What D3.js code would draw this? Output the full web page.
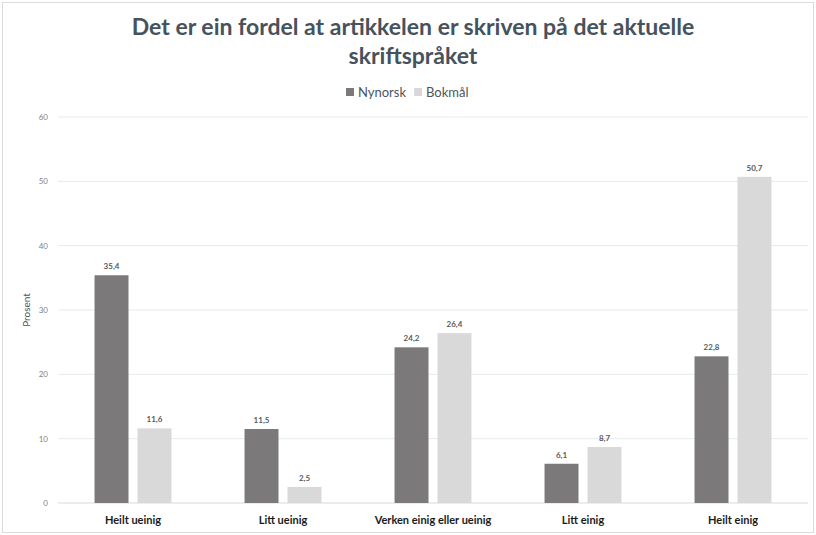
<!DOCTYPE html>
<html>
<head>
<meta charset="utf-8">
<script src="https://cdn.jsdelivr.net/npm/d3@7"></script>
<style>
  body { margin: 0; background: #fff; }
  text { font-family: Lato, "Open Sans", sans-serif; }
</style>
</head>
<body>
<div id="chart"></div>
<script>
// Chart data
var categories = ["Heilt ueinig", "Litt ueinig", "Verken einig eller ueinig", "Litt einig", "Heilt einig"];
var seriesNames = ["Nynorsk", "Bokmål"];
var nynorskValues = [35.4, 11.5, 24.2, 6.1, 22.8];
var bokmalValues = [11.6, 2.5, 26.4, 8.7, 50.7];
var yTicks = [0, 10, 20, 30, 40, 50, 60];
var titleLines = ["Det er ein fordel at artikkelen er skriven på det aktuelle", "skriftspråket"];

var svgWidth = 816;
var svgHeight = 535;

var margin = { top: 117, right: 8, bottom: 32, left: 58 };
var width = svgWidth - margin.left - margin.right;
var height = svgHeight - margin.top - margin.bottom;

var colors = { "Nynorsk": "#7b7979", "Bokmål": "#d9d9d9" };

var svg = d3.select("#chart")
  .append("svg")
  .attr("width", svgWidth)
  .attr("height", svgHeight);

// outer frame
svg.append("rect")
  .attr("x", 2.5).attr("y", 2.5)
  .attr("width", svgWidth - 5).attr("height", svgHeight - 5)
  .attr("fill", "#fff")
  .attr("stroke", "#dcdcdc");

var chartGroup = svg.append("g")
  .attr("transform", `translate(${margin.left}, ${margin.top})`);

// build rows from the arrays
var rows = categories.map(function (c, i) {
  return { category: c, values: { "Nynorsk": nynorskValues[i], "Bokmål": bokmalValues[i] } };
});

var x0 = d3.scaleBand()
  .domain(categories)
  .range([0, width]);

var x1 = d3.scaleBand()
  .domain(seriesNames)
  .range([0, x0.bandwidth()])
  .paddingInner(0.21)
  .paddingOuter(0.85);

var y = d3.scaleLinear()
  .domain([0, 60])
  .range([height, 0]);

// gridlines
chartGroup.append("g")
  .selectAll("line")
  .data(yTicks)
  .enter()
  .append("line")
  .attr("x1", 0)
  .attr("x2", width)
  .attr("y1", d => y(d))
  .attr("y2", d => y(d))
  .attr("stroke", d => d === 0 ? "#d9d9d9" : "#e4eaee")
  .attr("stroke-width", 1);

// y axis labels
var leftAxis = d3.axisLeft(y).tickValues(yTicks).tickSize(0).tickPadding(10);
var yAxisG = chartGroup.append("g").call(leftAxis);
yAxisG.select(".domain").remove();
yAxisG.selectAll("text")
  .style("font-size", "8px")
  .style("fill", "#7f7f7f");

// bars
var groups = chartGroup.selectAll(".grp")
  .data(rows)
  .enter()
  .append("g")
  .attr("class", "grp")
  .attr("transform", d => `translate(${x0(d.category)}, 0)`);

groups.selectAll("rect")
  .data(d => seriesNames.map(s => ({ key: s, value: d.values[s] })))
  .enter()
  .append("rect")
  .attr("x", d => x1(d.key))
  .attr("y", d => y(d.value))
  .attr("width", x1.bandwidth())
  .attr("height", d => y(0) - y(d.value))
  .attr("fill", d => colors[d.key]);

groups.selectAll(".val")
  .data(d => seriesNames.map(s => ({ key: s, value: d.values[s] })))
  .enter()
  .append("text")
  .attr("class", "val")
  .attr("x", d => x1(d.key) + x1.bandwidth() / 2)
  .attr("y", d => y(d.value) - 6)
  .style("font-size", "8px")
  .style("font-weight", "bold")
  .style("text-anchor", "middle")
  .style("fill", "#595959")
  .text(d => String(d.value).replace(".", ","));

// category labels
var bottomAxis = d3.axisBottom(x0).tickSize(0).tickPadding(13);
var xAxisG = chartGroup.append("g")
  .attr("transform", `translate(0, ${height})`)
  .call(bottomAxis);
xAxisG.select(".domain").remove();
xAxisG.selectAll("text")
  .style("font-size", "11px")
  .style("font-weight", "bold")
  .style("fill", "#1a1a1a");

// y axis title
chartGroup.append("text")
  .attr("transform", "rotate(-90)")
  .attr("x", -(y(30)))
  .attr("y", -28)
  .style("font-size", "10px")
  .style("text-anchor", "middle")
  .style("fill", "#4a5560")
  .text("Prosent");

// title
svg.selectAll(".title")
  .data(titleLines)
  .enter()
  .append("text")
  .attr("class", "title")
  .attr("x", 413)
  .attr("y", (d, i) => 35 + i * 29)
  .style("font-size", "23px")
  .style("font-weight", "bold")
  .style("text-anchor", "middle")
  .style("fill", "#46525c")
  .text(d => d);

// legend
var legend = svg.append("g").attr("transform", "translate(346, 92)");
var legendItems = legend.selectAll("g")
  .data(seriesNames)
  .enter()
  .append("g")
  .attr("transform", (d, i) => `translate(${i * 68}, 0)`);
legendItems.append("rect")
  .attr("x", 0).attr("y", -4)
  .attr("width", 8).attr("height", 8)
  .attr("fill", d => colors[d]);
legendItems.append("text")
  .attr("x", 12)
  .attr("y", 5)
  .style("font-size", "13px")
  .style("fill", "#4a5560")
  .text(d => d);
</script>
</body>
</html>
